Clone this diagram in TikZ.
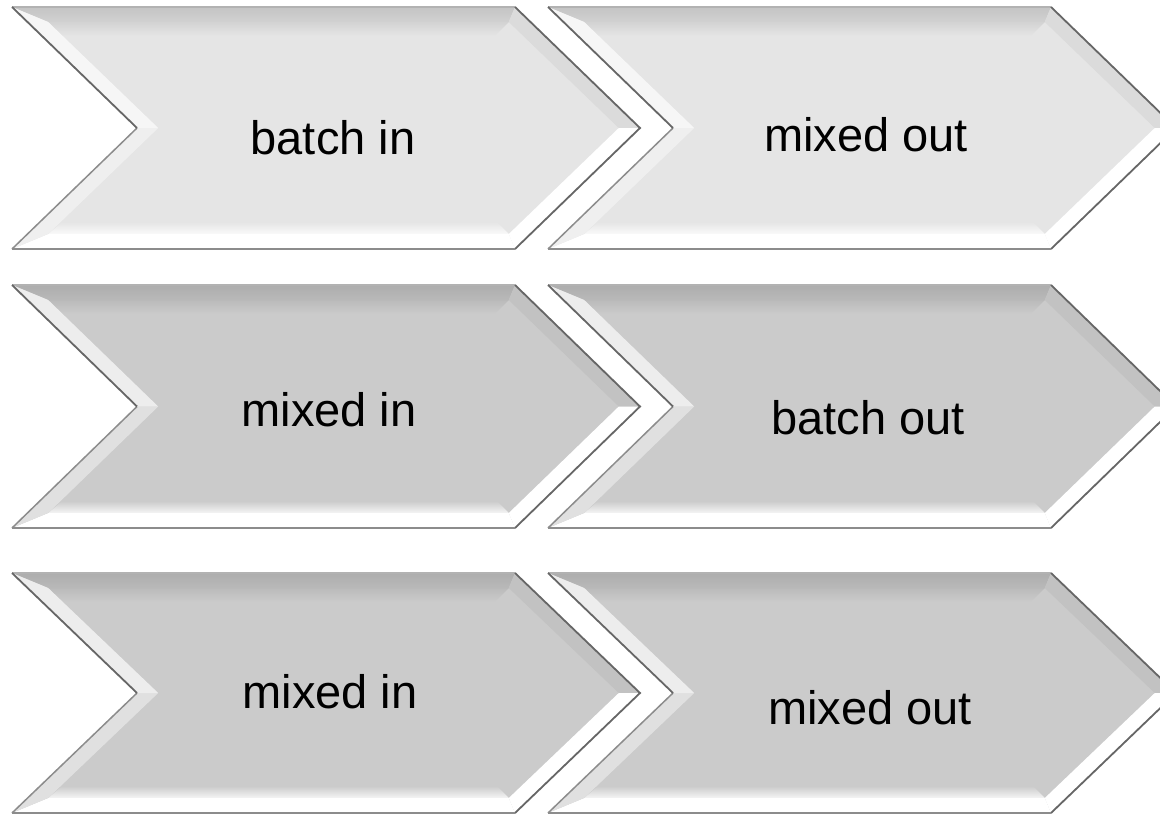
\documentclass[tikz,border=0pt]{standalone}
\usepackage{fontspec}
\setmainfont{Liberation Sans}
\usetikzlibrary{calc}
\definecolor{fillA}{HTML}{E5E5E5}
\definecolor{shadeA}{HTML}{C4C4C4}
\definecolor{fillB}{HTML}{CBCBCB}
\definecolor{shadeB}{HTML}{ADADAD}
\tikzset{
  lbl/.style={font=\fontsize{47}{56}\selectfont, text=black, inner sep=0pt},
  edgelight/.style={draw=black!30, line width=1.4pt},
  edgedark/.style={draw=black!60, line width=1.8pt},
  edgemid/.style={draw=black!45, line width=1.5pt}
}
% #1 left x, #2 top y, #3 bottom y, #4 fill colour, #5 shade colour
\newcommand\mychev[5]{%
  \pgfmathsetmacro\cL{#1}\pgfmathsetmacro\cT{#2}\pgfmathsetmacro\cB{#3}%
  \pgfmathsetmacro\cM{(#2+#3)/2}%
  \def\cw{503}\def\cd{125}\def\cb{15}%
  \coordinate (p1) at (\cL,\cT);
  \coordinate (p2) at ({\cL+\cw},\cT);
  \coordinate (p3) at ({\cL+\cw+\cd},\cM);
  \coordinate (p4) at ({\cL+\cw},\cB);
  \coordinate (p5) at (\cL,\cB);
  \coordinate (p6) at ({\cL+\cd},\cM);
  \coordinate (q1) at ({\cL+2.414*\cb},{\cT+\cb});
  \coordinate (q2) at ({\cL+\cw-0.414*\cb},{\cT+\cb});
  \coordinate (q3) at ({\cL+\cw+\cd-1.414*\cb},\cM);
  \coordinate (q4) at ({\cL+\cw-0.414*\cb},{\cB-\cb});
  \coordinate (q5) at ({\cL+2.414*\cb},{\cB-\cb});
  \coordinate (q6) at ({\cL+\cd+1.414*\cb},\cM);
  \fill[#4] (p1)--(p2)--(p3)--(p4)--(p5)--(p6)--cycle;
  % soft inner gradients
  \shade[top color=#5!55!#4, bottom color=#4] (q1) -- (q2) -- ($(q2)+(-14,14)$) -- ($(q1)+(14,14)$) -- cycle;
  \shade[top color=#4, bottom color=white!80!#4] ($(q5)+(14,-12)$) -- ($(q4)+(-12,-12)$) -- (q4) -- (q5) -- cycle;
  % facets
  \shade[top color=#5, bottom color=#5!60!#4] (p1)--(p2)--(q2)--(q1)--cycle;
  \fill[#4!70!#5] (p2)--(p3)--(q3)--(q2)--cycle;
  \fill[white] (p3)--(p4)--(q4)--(q3)--cycle;
  \fill[white] (p4)--(p5)--(q5)--(q4)--cycle;
  \fill[#4!60!white] (p5)--(p6)--(q6)--(q5)--cycle;
  \fill[#4!35!white] (p6)--(p1)--(q1)--(q6)--cycle;
  % outline
  \path[edgelight] (p1)--(p2);
  \path[edgedark, line join=miter] (p2)--(p3)--(p4);
  \path[edgemid] (p4)--(p5);
  \path[edgemid] (p5)--(p6);
  \path[edgedark] (p6)--(p1);
}
\begin{document}
\begin{tikzpicture}[x=1pt, y=-1pt]
  \useasboundingbox (0,0) rectangle (1160,816);
  \clip (0,0) rectangle (1160,816);
  \fill[white] (0,0) rectangle (1160,816);
  \mychev{12}{7}{249}{fillA}{shadeA}
  \mychev{548}{7}{249}{fillA}{shadeA}
  \mychev{12}{285}{528}{fillB}{shadeB}
  \mychev{548}{285}{528}{fillB}{shadeB}
  \mychev{12}{573}{813}{fillB}{shadeB}
  \mychev{548}{573}{813}{fillB}{shadeB}
  \node[lbl] (t1) at (333,138) {batch in};
  \node[lbl] (t2) at (866,135) {mixed out};
  \node[lbl] (t3) at (329,410) {mixed in};
  \node[lbl] (t4) at (868,418) {batch out};
  \node[lbl] (t5) at (330,692) {mixed in};
  \node[lbl] (t6) at (870,708) {mixed out};
\end{tikzpicture}
\end{document}
